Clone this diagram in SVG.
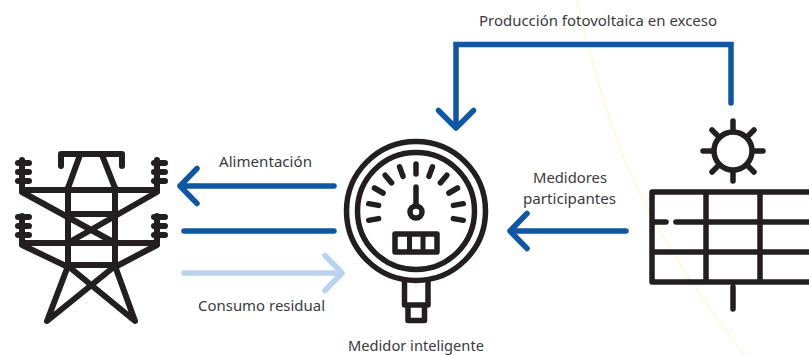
<svg xmlns="http://www.w3.org/2000/svg" width="809" height="355" viewBox="0 0 809 355">
<style>
text{font-family:"Noto Sans","Open Sans",sans-serif;font-size:15px;fill:#3a3a3c;text-anchor:middle}
.k{fill:none;stroke:#231f20;stroke-width:5.5;stroke-linecap:round;stroke-linejoin:round}
.t{stroke-width:6}
.a{fill:none;stroke:#0f56a4;stroke-width:5.5;stroke-linecap:round;stroke-linejoin:round}
.l{fill:none;stroke:#b9d2ee;stroke-width:5.5;stroke-linecap:round;stroke-linejoin:round}
</style>
<rect width="809" height="355" fill="#fff"/>
<path d="M577 0C590 60 610 125 630 173C655 228 690 285 745 355" fill="none" stroke="#fdf8c8" stroke-width="1.2"/>
<g id="connectors">
<path class="a" d="M731 103V44.500H456V127" style="stroke-linejoin:miter"/>
<path class="a" d="M438.500 110.500L456 128L473.500 110.500"/>
<path class="a" d="M334 186H180M197 168.500L180 186L197 203.500"/>
<path class="a" d="M334 231H184"/>
<path class="l" d="M184 273H342M325 255.500L342 273L325 290.500"/>
<path class="a" d="M626 231H510M527 213.500L510 231L527 248.500"/>
</g>
<g id="torre">
<path class="k t" d="M61 166V154H122V166M80 155L68 188M102 155L115 188"/>
<path class="k t" d="M22 160V190H157V160M22 216V243H157V216"/>
<path class="k t" d="M68 188V266M115 188V266M68 214H115M68 265H115"/>
<path class="k t" d="M22 192L115 243M157 192L68 243M22 245L68 267M157 245L115 267"/>
<path class="k t" d="M68 266L47 321L115 266M115 266L135 321L68 266"/>
<path class="k t" d="M18 163H29M18 172H29M18 181H29M18 217H29M18 226H29M18 235H29M154 163H165M154 172H165M154 181H165M154 217H165M154 226H165M154 235H165"/>
</g>
<g id="medidor">
<circle class="k" cx="416" cy="211" r="69.500"/>
<circle class="k" cx="416" cy="211" r="58.500"/>
<g class="k">
<path d="M416 164V174"/>
<path d="M416 164V174" transform="rotate(20 416 212)"/>
<path d="M416 164V174" transform="rotate(40 416 212)"/>
<path d="M416 164V174" transform="rotate(60 416 212)"/>
<path d="M416 164V174" transform="rotate(80 416 212)"/>
<path d="M416 164V174" transform="rotate(100 416 212)"/>
<path d="M416 164V174" transform="rotate(-20 416 212)"/>
<path d="M416 164V174" transform="rotate(-40 416 212)"/>
<path d="M416 164V174" transform="rotate(-60 416 212)"/>
<path d="M416 164V174" transform="rotate(-80 416 212)"/>
<path d="M416 164V174" transform="rotate(-100 416 212)"/>
<path d="M416 187V205"/>
</g>
<circle cx="416" cy="212" r="6" fill="#fff" stroke="#231f20" stroke-width="5.500"/>
<rect x="395" y="234" width="42" height="18" fill="#fff" stroke="#231f20" stroke-width="5.500" stroke-linejoin="round"/>
<path d="M409.500 236V250M423 236V250" stroke="#231f20" stroke-width="5"/>
<path class="k" d="M404.500 282V305H428V282M408 306V320.500H424.500V306"/>
</g>
<g id="panel">
<circle class="k" cx="733" cy="151" r="19"/>
<path class="k" d="M733 121V131M733 171V181M703 151H713M753 151H763M712 130L718 136M754 130L748 136M712 172L718 166M754 172L748 166"/>
<path class="k" d="M812 192H652V282H812M706 192V282M760 192V282M652 252H812M652 222H666M676 222H812M733 287V309"/>
</g>
<g id="etiquetas">
<text x="598" y="26" textLength="238" lengthAdjust="spacingAndGlyphs">Producción fotovoltaica en exceso</text>
<text x="265.500" y="167" textLength="93" lengthAdjust="spacingAndGlyphs">Alimentación</text>
<text x="261.500" y="311" textLength="127" lengthAdjust="spacingAndGlyphs">Consumo residual</text>
<text x="416" y="351" textLength="136" lengthAdjust="spacingAndGlyphs">Medidor inteligente</text>
<text x="570" y="183" textLength="74" lengthAdjust="spacingAndGlyphs">Medidores</text>
<text x="569.500" y="204" textLength="93" lengthAdjust="spacingAndGlyphs">participantes</text>
</g>
</svg>
